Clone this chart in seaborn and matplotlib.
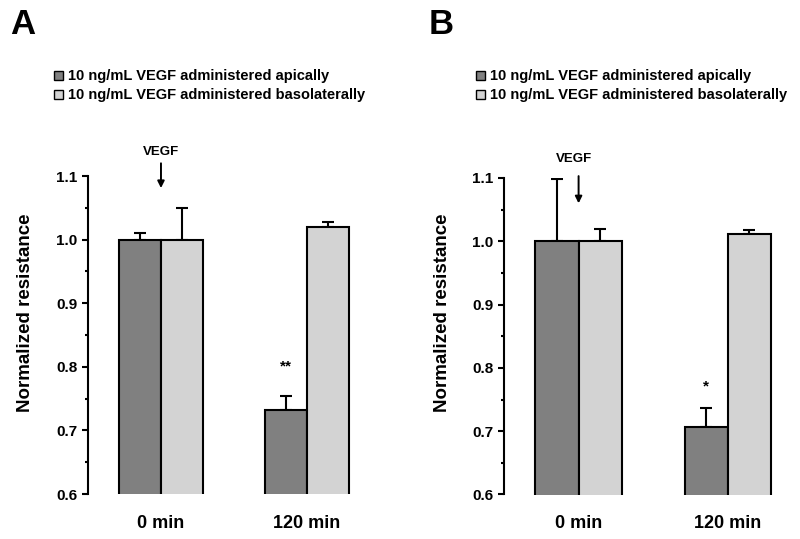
import pandas as pd
import seaborn as sns

from matplotlib import pyplot as plt
from matplotlib.patches import Patch

# data
times = ["0 min", "120 min"]
treatments = ["10 ng/mL VEGF administered apically",
              "10 ng/mL VEGF administered basolaterally"]

a_apical = [1.000, 0.732]
a_apical_err = [0.010, 0.022]
a_baso = [1.000, 1.020]
a_baso_err = [0.050, 0.007]
a_stars = ["", "**"]

b_apical = [1.000, 0.706]
b_apical_err = [0.099, 0.030]
b_baso = [1.000, 1.011]
b_baso_err = [0.020, 0.007]
b_stars = ["", "*"]

colors = ["#808080", "#d3d3d3"]

sns.set_style("white")
plt.rcParams['font.family'] = ['Liberation Sans', 'DejaVu Sans']
plt.rcParams['font.weight'] = 'bold'
for key in ['text.color', 'axes.labelcolor', 'xtick.color', 'ytick.color', 'axes.edgecolor']:
    plt.rcParams[key] = 'black'


# function to draw one panel of the figure
def draw_panel(ax, apical, apical_err, baso, baso_err, stars, star_y, arrow, label_x):
    df = pd.DataFrame({
        'time': times * 2,
        'treatment': [treatments[0]] * 2 + [treatments[1]] * 2,
        'value': apical + baso,
    })
    sns.barplot(data=df, x='time', y='value', hue='treatment', order=times,
                hue_order=treatments, palette=colors, width=0.58, saturation=1,
                edgecolor='black', linewidth=1.5, legend=False, ax=ax, zorder=3)

    # upward-only error bars on top of each bar
    for cont, errs in zip(ax.containers, [apical_err, baso_err]):
        xs = [p.get_x() + p.get_width() / 2 for p in cont]
        ys = [p.get_height() + p.get_y() for p in cont]
        ax.errorbar(xs, ys, yerr=[[0] * len(errs), errs], fmt='none', ecolor='black',
                    elinewidth=1.5, capsize=4, capthick=1.5, zorder=2)

    # significance marks above the apical bars
    for p, s in zip(ax.containers[0], stars):
        if s:
            ax.text(p.get_x() + p.get_width() / 2, star_y, s, ha='center', va='center',
                    fontsize=11, fontweight='bold')

    # VEGF arrow
    ax.annotate('', xy=(0, arrow[1]), xytext=(0, arrow[0]),
                arrowprops=dict(arrowstyle='-|>', color='black', lw=1.4,
                                mutation_scale=10, shrinkA=0, shrinkB=0),
                annotation_clip=False)
    ax.text(arrow[2], arrow[3], 'VEGF', ha='center', va='center', fontsize=9.5,
            fontweight='bold', clip_on=False)

    ax.set_ylim(0.6, 1.1)
    ax.set_xlim(-0.5, 1.35)
    ax.set_yticks([0.6, 0.7, 0.8, 0.9, 1.0, 1.1])
    ax.set_yticklabels(['0.6', '0.7', '0.8', '0.9', '1.0', '1.1'])
    ax.set_yticks([0.65, 0.75, 0.85, 0.95, 1.05], minor=True)
    ax.tick_params(axis='y', which='major', direction='out', length=4.5, width=1.5,
                   left=True, labelsize=11, pad=3)
    ax.tick_params(axis='y', which='minor', direction='out', length=2.5, width=1.5, left=True)
    ax.tick_params(axis='x', length=0, labelsize=13, pad=15)
    for lab in ax.get_xticklabels() + ax.get_yticklabels():
        lab.set_fontweight('bold')

    sns.despine(ax=ax, bottom=True)
    ax.spines['left'].set_linewidth(1.5)
    ax.set_xlabel('')
    ax.set_ylabel('Normalized resistance', fontsize=13.5, fontweight='bold')
    ax.yaxis.set_label_coords(label_x, 1 - 313 / 539, transform=ax.figure.transFigure)


fig = plt.figure(figsize=(8, 5.39), dpi=100)
ax_a = fig.add_axes([88 / 800, 1 - 494 / 539, 270 / 800, 318 / 539])
ax_b = fig.add_axes([504 / 800, 1 - 494.5 / 539, 276 / 800, 316.5 / 539])

draw_panel(ax_a, a_apical, a_apical_err, a_baso, a_baso_err, a_stars, 0.800,
           (1.120, 1.081, 0.0, 1.137), 34 / 800)
draw_panel(ax_b, b_apical, b_apical_err, b_baso, b_baso_err, b_stars, 0.770,
           (1.103, 1.060, -0.03, 1.130), 451 / 800)

handles = [Patch(facecolor=c, edgecolor='black', linewidth=1) for c in colors]
for x0 in [47 / 800, 469 / 800]:
    fig.legend(handles, treatments, loc='upper left', bbox_to_anchor=(x0, 1 - 62 / 539),
               frameon=False, borderpad=0, handlelength=0.6, handleheight=0.6,
               handletextpad=0.35, labelspacing=0.35,
               prop={'size': 10.5, 'weight': 'bold'})

fig.text(10 / 800, 1 - 8 / 539, 'A', fontsize=25, fontweight='bold', va='top')
fig.text(429 / 800, 1 - 8 / 539, 'B', fontsize=25, fontweight='bold', va='top')

fig.savefig('out.png', dpi=100)
